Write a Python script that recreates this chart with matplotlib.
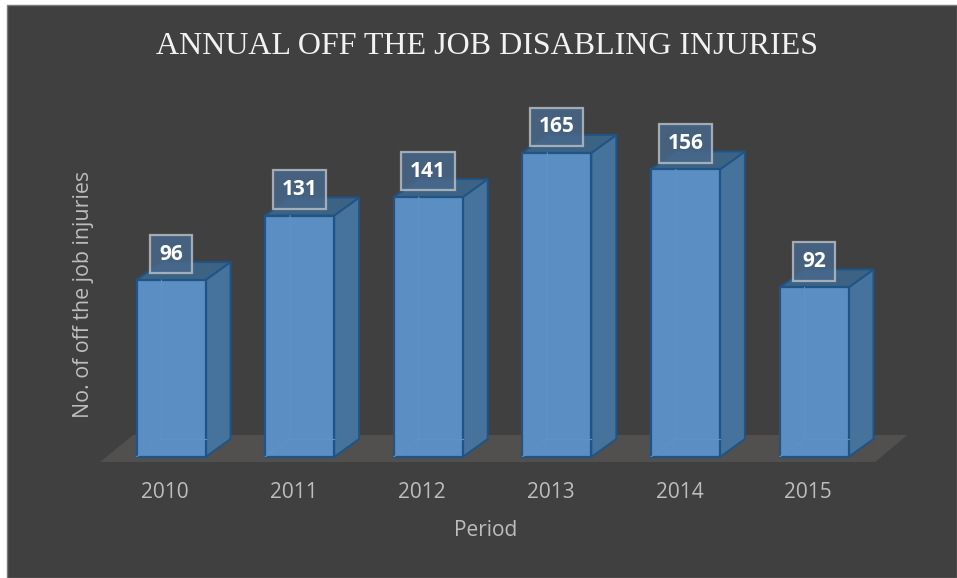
import matplotlib
matplotlib.use("Agg")
import matplotlib.pyplot as plt
from matplotlib.patches import Polygon, Rectangle
from matplotlib.transforms import ScaledTranslation

years = ["2010", "2011", "2012", "2013", "2014", "2015"]
injuries = [96, 131, 141, 165, 156, 92]

W, H = 957, 578
bar_w = 69 / 128.6
depth_x = 25 / 128.6
depth_y = 18 / 1.843

bg = "#404040"
front = "#5b8fc4"
side = "#46739c"
top = "#3c6384"
edge = "#1f5485"
txt = "#bdbdbd"

fig = plt.figure(figsize=(W / 100, H / 100), dpi=100, facecolor="white")
fig.patches.append(Rectangle((7 / W, 0), 950 / W, 573 / H, transform=fig.transFigure,
                             facecolor=bg, edgecolor="#7a7a7a", linewidth=1, zorder=-1))

# axes sits on the bar baseline, one unit of x = one category
ax = fig.add_axes([106.7 / W, (H - 457) / H, 771.6 / W, 357 / H])
ax.set_xlim(-0.5, 5.5)
ax.set_ylim(0, 357 / 1.843)
ax.patch.set_alpha(0)
for s in ax.spines.values():
    s.set_visible(False)
ax.set_yticks([])
ax.set_xticks(range(len(years)))
ax.set_xticklabels(years, fontsize=15, color=txt, family="Open Sans")
ax.tick_params(axis="x", length=0, pad=18)
# tick labels sit a little left of the bars in the original
shift = ScaledTranslation(-6 / 100, 0, fig.dpi_scale_trans)
for lab in ax.get_xticklabels():
    lab.set_transform(lab.get_transform() + shift)

# floor
fl = -5 / 1.843
ax.add_patch(Polygon([(-0.552, fl), (5.476, fl), (5.725, 22 / 1.843), (-0.295, 22 / 1.843)],
                     facecolor="#524f4f", edgecolor="none", clip_on=False, zorder=1))

for i, v in enumerate(injuries):
    l = i - bar_w / 2
    r = i + bar_w / 2
    ax.add_patch(Polygon([(r, 0), (r + depth_x, depth_y), (r + depth_x, v + depth_y), (r, v)],
                         facecolor=side, edgecolor=edge, linewidth=1.4, zorder=2, clip_on=False))
    ax.add_patch(Polygon([(l, v), (r, v), (r + depth_x, v + depth_y), (l + depth_x, v + depth_y)],
                         facecolor=top, edgecolor=edge, linewidth=1.4, zorder=2, clip_on=False))
    ax.add_patch(Rectangle((l, 0), bar_w, v, facecolor=front, edgecolor=edge,
                           linewidth=1.6, zorder=3, clip_on=False))
    # hidden edges show faintly through the front face
    ax.plot([l, l + depth_x, l + depth_x], [0, depth_y, v], color="#5f93c6", lw=0.8, zorder=4)
    ax.plot([l + depth_x, r], [depth_y, depth_y], color="#5f93c6", lw=0.8, zorder=4)
    ax.annotate(str(v), (i, v), xytext=(0, 26 * 0.72), textcoords="offset points", ha="center",
                va="center", fontsize=15, fontweight="bold", color="white",
                family="Open Sans", zorder=6,
                bbox=dict(boxstyle="square,pad=0.42", facecolor="#48688a", alpha=0.85,
                          edgecolor="#b5bcc3", linewidth=1.6))

fig.text(487 / W, 1 - 46 / H, "ANNUAL OFF THE JOB DISABLING INJURIES", ha="center", va="center",
         fontsize=23, color="#f2f2f2", family="Liberation Serif")
fig.text(83 / W, 1 - 294 / H, "No. of off the job injuries", rotation=90, ha="center", va="center",
         fontsize=15.4, color=txt, family="Open Sans")
fig.text(486 / W, 1 - 530 / H, "Period", ha="center", va="center",
         fontsize=15, color=txt, family="Open Sans")

fig.savefig("out.png", dpi=100, facecolor="white")
